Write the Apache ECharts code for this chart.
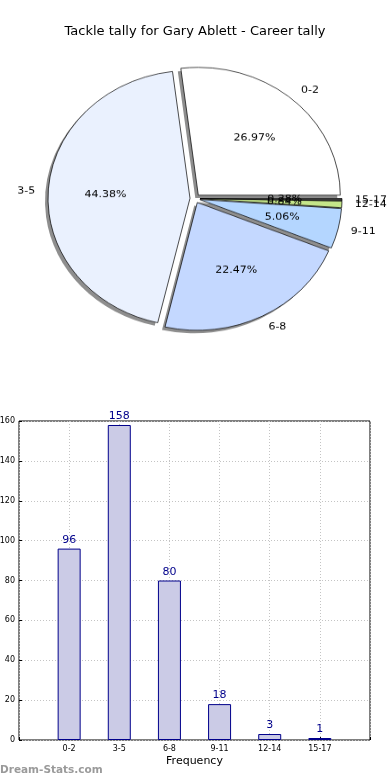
<!DOCTYPE html>
<html>
<head>
<meta charset="utf-8">
<script src="https://cdn.jsdelivr.net/npm/echarts@6/dist/echarts.min.js"></script>
<style>
  html, body { margin: 0; padding: 0; background: #ffffff; }
  #main { position: absolute; left: 0; top: 0; width: 390px; height: 780px; }
  #pie { position: absolute; left: 0; top: 0; width: 390px; height: 400px;
         transform: scaleY(0.9); transform-origin: 195px 198.5px; }
</style>
</head>
<body>
<div id="main"></div>
<div id="pie"></div>
<script>
const titleText = 'Tackle tally for Gary Ablett - Career tally';
const categories = ['0-2', '3-5', '6-8', '9-11', '12-14', '15-17'];
const tallies = [96, 158, 80, 18, 3, 1];
const sliceColors = ['#ffffff', '#eaf1fe', '#c4d8ff', '#b4d6ff', '#c5e68a', '#3a3a3a'];
const yMax = 160;
const yStep = 20;
const xAxisName = 'Frequency';
const watermark = 'Dream-Stats.com';

const FONT = '"DejaVu Sans", sans-serif';

// ---------- Pie ----------
const pie = echarts.init(document.getElementById('pie'), null, { renderer: 'canvas' });
const R = 142;
const OFFSET = 5;
const CENTER = [195, 198.5];
const SHADOW_CENTER = [CENTER[0] - 3, CENTER[1] + 3.3];
const baseSeries = {
  type: 'pie',
  radius: [0, R],
  startAngle: 0,
  clockwise: false,
  selectedMode: 'multiple',
  selectedOffset: OFFSET,
  avoidLabelOverlap: false,
  minAngle: 0,
  minShowLabelAngle: 0,
  labelLayout: { hideOverlap: false },
  emphasis: { disabled: true, scale: false }
};
const pieData = categories.map((c, i) => ({
  name: c, value: tallies[i], selected: true,
  itemStyle: { color: sliceColors[i] }
}));
const plainData = categories.map((c, i) => ({
  name: c, value: tallies[i], selected: true
}));
pie.setOption({
  animation: false,
  series: [
    Object.assign({}, baseSeries, {
      center: SHADOW_CENTER,
      silent: true,
      itemStyle: { color: '#8e8e8e', borderWidth: 0 },
      select: { itemStyle: { color: '#8e8e8e', borderWidth: 0 } },
      label: { show: false },
      labelLine: { show: false },
      data: plainData
    }),
    Object.assign({}, baseSeries, {
      center: CENTER,
      itemStyle: { borderColor: '#000', borderWidth: 0.7 },
      select: { itemStyle: { borderColor: '#000', borderWidth: 0.7 } },
      label: {
        show: true, position: 'outside', formatter: '{b}',
        fontFamily: FONT, fontSize: 11, color: '#000',
        distanceToLabelLine: 0
      },
      labelLine: { show: false, length: 13, length2: 0 },
      data: pieData
    }),
    Object.assign({}, baseSeries, {
      center: CENTER,
      radius: [R * 0.15, R],
      silent: true,
      itemStyle: { color: 'rgba(0,0,0,0)', borderWidth: 0 },
      select: { itemStyle: { color: 'rgba(0,0,0,0)', borderWidth: 0 } },
      label: {
        show: true, position: 'inside', formatter: '{d}%',
        fontFamily: FONT, fontSize: 11, color: '#000'
      },
      labelLine: { show: false },
      data: plainData
    })
  ]
});

// ---------- Title + Bar ----------
const main = echarts.init(document.getElementById('main'), null, { renderer: 'canvas' });
const xCats = [''].concat(categories, ['']);
const barData = [null].concat(tallies, [null]);
main.setOption({
  animation: false,
  title: [
    {
      text: titleText, left: 'center', top: 20,
      textStyle: { fontFamily: FONT, fontSize: 13, fontWeight: 'normal', color: '#000' }
    },
    {
      text: watermark, left: 0, top: 765, padding: 0,
      textStyle: { fontFamily: FONT, fontSize: 10.5, fontWeight: 'bold', color: '#9a9a9a' }
    }
  ],
  grid: {
    left: 19, right: 20, top: 421, bottom: 40,
    containLabel: false, outerBoundsMode: 'none',
    show: true, borderColor: '#000', borderWidth: 1, backgroundColor: 'transparent'
  },
  xAxis: {
    type: 'category',
    data: xCats,
    boundaryGap: false,
    name: xAxisName,
    nameLocation: 'middle',
    nameGap: 16,
    nameTextStyle: { fontFamily: FONT, fontSize: 11, color: '#000' },
    axisLine: { show: false },
    axisTick: { show: true, inside: true, length: 3, interval: 0, lineStyle: { color: '#000' } },
    axisLabel: { interval: 0, fontFamily: FONT, fontSize: 8, color: '#000', margin: 5 },
    splitLine: { show: true, interval: 0, lineStyle: { color: '#c4c4c4', type: [1, 2], width: 1 } }
  },
  yAxis: {
    type: 'value',
    min: 0, max: yMax, interval: yStep,
    axisLine: { show: false },
    axisTick: { show: true, inside: true, length: 3, lineStyle: { color: '#000' } },
    axisLabel: { fontFamily: FONT, fontSize: 8, color: '#000', margin: 4 },
    splitLine: { show: true, lineStyle: { color: '#c4c4c4', type: [1, 2], width: 1 } }
  },
  series: [{
    type: 'bar',
    data: barData,
    barWidth: 23,
    itemStyle: { color: '#cbcbe6', borderColor: '#00008b', borderWidth: 1 },
    label: {
      show: true, position: 'top', distance: 3,
      fontFamily: FONT, fontSize: 11, color: '#00008b'
    },
    emphasis: { disabled: true }
  }]
});
</script>
</body>
</html>
